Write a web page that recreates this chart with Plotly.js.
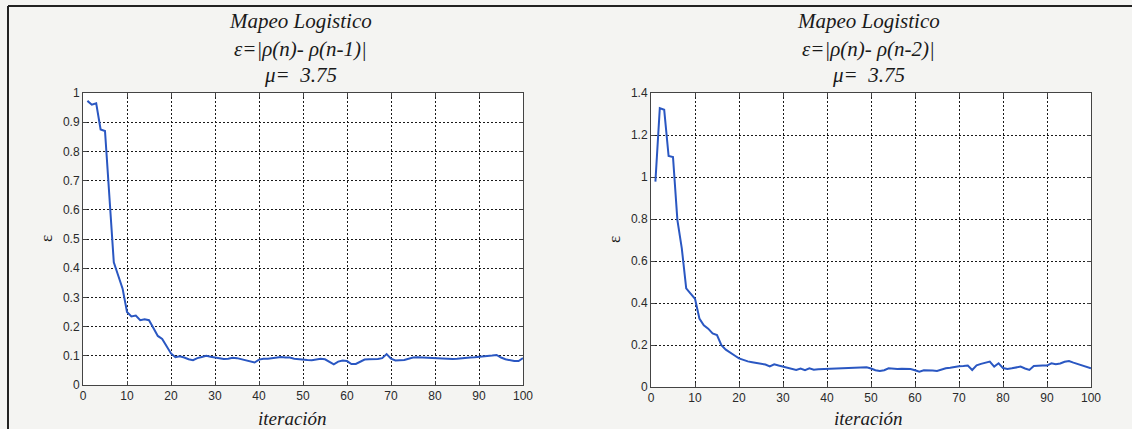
<!DOCTYPE html>
<html>
<head>
<meta charset="utf-8">
<script src="https://cdn.plot.ly/plotly-3.0.1.min.js"></script>
<style>
html,body{margin:0;padding:0;background:#f4f4f2;}
#chart{width:1132px;height:429px;}
</style>
</head>
<body>
<div id="chart"></div>
<script>
// iteration index
const iteracion = [1,2,3,4,5,6,7,8,9,10,11,12,13,14,15,16,17,18,19,20,
  21,22,23,24,25,26,27,28,29,30,31,32,33,34,35,36,37,38,39,40,
  41,42,43,44,45,46,47,48,49,50,51,52,53,54,55,56,57,58,59,60,
  61,62,63,64,65,66,67,68,69,70,71,72,73,74,75,76,77,78,79,80,
  81,82,83,84,85,86,87,88,89,90,91,92,93,94,95,96,97,98,99,100];

// ε = |ρ(n) - ρ(n-1)|
const epsLag1 = [0.973,0.960,0.965,0.875,0.870,0.660,0.420,0.375,0.330,0.250,
  0.235,0.238,0.222,0.225,0.222,0.195,0.168,0.158,0.132,0.108,
  0.095,0.098,0.094,0.088,0.085,0.092,0.096,0.100,0.097,0.094,
  0.090,0.089,0.090,0.093,0.092,0.088,0.085,0.080,0.077,0.087,
  0.090,0.090,0.092,0.095,0.096,0.094,0.094,0.090,0.088,0.086,
  0.086,0.085,0.087,0.090,0.088,0.080,0.071,0.080,0.084,0.082,
  0.072,0.072,0.080,0.087,0.088,0.088,0.089,0.092,0.106,0.090,
  0.084,0.085,0.086,0.090,0.094,0.095,0.094,0.093,0.094,0.091,
  0.091,0.090,0.090,0.089,0.090,0.092,0.093,0.094,0.095,0.096,
  0.097,0.099,0.101,0.103,0.094,0.088,0.085,0.082,0.082,0.092];

// ε = |ρ(n) - ρ(n-2)|
const epsLag2 = [0.978,1.328,1.320,1.100,1.095,0.795,0.660,0.470,0.445,0.420,
  0.326,0.294,0.278,0.255,0.247,0.199,0.178,0.162,0.150,0.136,
  0.128,0.122,0.118,0.115,0.113,0.107,0.098,0.108,0.102,0.097,
  0.092,0.087,0.081,0.088,0.080,0.089,0.082,0.084,0.085,0.086,
  0.086,0.087,0.088,0.090,0.092,0.094,0.094,0.094,0.094,0.088,
  0.080,0.076,0.080,0.089,0.087,0.086,0.087,0.088,0.086,0.080,
  0.073,0.080,0.080,0.078,0.076,0.084,0.089,0.092,0.096,0.099,
  0.100,0.102,0.081,0.103,0.110,0.116,0.121,0.097,0.113,0.090,
  0.086,0.089,0.092,0.097,0.088,0.081,0.100,0.102,0.102,0.102,
  0.113,0.108,0.112,0.120,0.124,0.116,0.109,0.104,0.098,0.089];

const xTicks = [0,10,20,30,40,50,60,70,80,90,100];
const yTicksLeft = [0,0.1,0.2,0.3,0.4,0.5,0.6,0.7,0.8,0.9,1];
const yTicksRight = [0,0.2,0.4,0.6,0.8,1,1.2,1.4];

const titleLinesLeft = ["Mapeo Logistico", "ε=|ρ(n)- ρ(n-1)|", "μ=&nbsp;&nbsp;3.75"];
const titleLinesRight = ["Mapeo Logistico", "ε=|ρ(n)- ρ(n-2)|", "μ=&nbsp;&nbsp;3.75"];
const xTitle = "iteración";
const yTitle = "ε";

const W = 1132, H = 429;
const px = v => v / W;
const py = v => 1 - v / H;

const lineColor = '#2a57c2';
const tickFont = {family: 'Liberation Sans, Arial, sans-serif', size: 12, color: '#2a2a2a'};
const serifItalic = {family: 'Liberation Serif, Times New Roman, serif', size: 21, color: '#1a1a1a', style: 'italic'};
const xTitleFont = {family: 'Liberation Serif, Times New Roman, serif', size: 19, color: '#1a1a1a', style: 'italic'};

function axisBase(extra) {
  return Object.assign({
    showline: true, mirror: 'ticks', linecolor: '#444', linewidth: 1,
    ticks: 'inside', ticklen: 4, tickcolor: '#444',
    showgrid: true, gridcolor: '#1a1a1a', gridwidth: 1, griddash: '2px,2px',
    zeroline: false, tickfont: tickFont, automargin: false, fixedrange: true
  }, extra);
}

const traces = [
  {x: iteracion, y: epsLag1, type: 'scatter', mode: 'lines', xaxis: 'x', yaxis: 'y',
   line: {color: lineColor, width: 2}, hoverinfo: 'skip'},
  {x: iteracion, y: epsLag2, type: 'scatter', mode: 'lines', xaxis: 'x2', yaxis: 'y2',
   line: {color: lineColor, width: 2}, hoverinfo: 'skip'}
];

const titleY = [21, 49, 75];
const annotations = [];
titleLinesLeft.forEach((t, i) => annotations.push({
  text: t, xref: 'paper', yref: 'paper', x: px(300), y: py(titleY[i]),
  xanchor: 'center', yanchor: 'middle', showarrow: false, font: serifItalic
}));
titleLinesRight.forEach((t, i) => annotations.push({
  text: t, xref: 'paper', yref: 'paper', x: px(868), y: py(titleY[i]),
  xanchor: 'center', yanchor: 'middle', showarrow: false, font: serifItalic
}));
// axis titles
[[px(292), py(418)], [px(868), py(418)]].forEach(p => annotations.push({
  text: xTitle, xref: 'paper', yref: 'paper', x: p[0], y: p[1],
  xanchor: 'center', yanchor: 'middle', showarrow: false, font: xTitleFont
}));
[[px(46), py(239)], [px(614), py(240)]].forEach(p => annotations.push({
  text: yTitle, xref: 'paper', yref: 'paper', x: p[0], y: p[1], textangle: -90,
  xanchor: 'center', yanchor: 'middle', showarrow: false,
  font: {family: 'Liberation Serif, Times New Roman, serif', size: 17, color: '#1a1a1a'}
}));

const layout = {
  width: W, height: H,
  margin: {l: 0, r: 0, t: 0, b: 0},
  paper_bgcolor: '#f4f4f2',
  plot_bgcolor: '#ffffff',
  showlegend: false,
  xaxis: axisBase({domain: [px(83), px(523)], range: [0, 100], tickvals: xTicks, anchor: 'y'}),
  yaxis: axisBase({domain: [py(385), py(93)], range: [0, 1], tickvals: yTicksLeft, anchor: 'x'}),
  xaxis2: axisBase({domain: [px(651), px(1091)], range: [0, 100], tickvals: xTicks, anchor: 'y2'}),
  yaxis2: axisBase({domain: [py(387), py(93)], range: [0, 1.4], tickvals: yTicksRight, anchor: 'x2'}),
  annotations: annotations,
  shapes: [
    {type: 'line', xref: 'paper', yref: 'paper', x0: px(8), x1: 1, y0: py(6), y1: py(6),
     line: {color: '#222', width: 2}},
    {type: 'line', xref: 'paper', yref: 'paper', x0: px(8), x1: px(8), y0: py(6), y1: 0,
     line: {color: '#222', width: 2}}
  ]
};

Plotly.newPlot('chart', traces, layout, {displayModeBar: false, staticPlot: true});
</script>
</body>
</html>
